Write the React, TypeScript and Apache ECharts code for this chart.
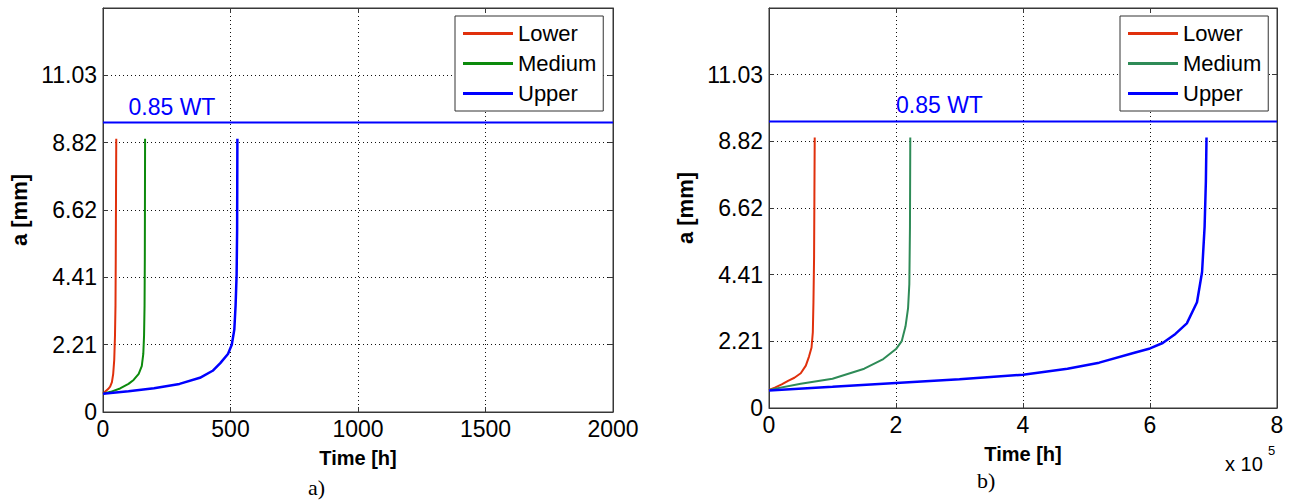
import React, { useEffect, useRef } from "react";
import * as echarts from "echarts";

// ---- Data ----
const seriesNames = ["Lower", "Medium", "Upper"];
const yTickLabels = ["0", "2.21", "4.41", "6.62", "8.82", "11.03", ""];
const wtLevel = 9.48; // 0.85 WT [mm]
const wtLabel = "0.85 WT";

// Panel a) time in hours
const lowerA_t = [0, 10, 20, 28, 35, 40, 44, 47, 49, 50, 51, 52];
const lowerA_a = [0.6, 0.68, 0.75, 0.83, 0.98, 1.25, 1.7, 2.5, 3.5, 5, 7, 8.95];
const mediumA_t = [0, 30, 67, 100, 120, 140, 152, 158, 161, 163, 164, 165];
const mediumA_a = [0.6, 0.66, 0.77, 0.92, 1.05, 1.25, 1.5, 1.9, 2.5, 3.5, 5, 8.95];
const upperA_t = [0, 100, 200, 300, 380, 430, 460, 490, 505, 515, 520, 524, 526, 527];
const upperA_a = [0.6, 0.68, 0.78, 0.92, 1.12, 1.35, 1.6, 1.9, 2.2, 2.7, 3.5, 4.5, 6, 8.95];

// Panel b) time in hours
const lowerB_t = [0, 10000, 20000, 30000, 40000, 50000, 58000, 63000, 67000, 69000, 70000, 71000, 71500, 72000];
const lowerB_a = [0.6, 0.68, 0.78, 0.9, 1.0, 1.15, 1.4, 1.7, 2.0, 2.5, 3.5, 5, 7, 8.95];
const mediumB_t = [0, 50000, 100000, 150000, 180000, 200000, 209000, 215000, 219000, 221000, 222000, 222500];
const mediumB_a = [0.6, 0.8, 0.97, 1.3, 1.62, 1.95, 2.21, 2.7, 3.3, 4.1, 6, 8.95];
const upperB_t = [0, 100000, 200000, 300000, 400000, 470000, 520000, 574000, 600000, 620000, 640000, 658000, 674000, 682000, 686000, 688000, 689000];
const upperB_a = [0.58, 0.7, 0.83, 0.95, 1.1, 1.3, 1.5, 1.82, 1.97, 2.15, 2.45, 2.8, 3.5, 4.5, 6, 7.5, 8.95];

const FONT = "Liberation Sans, Arial, sans-serif";
const AXIS_COLOR = "#383838";

function zip(t: number[], a: number[]) {
  return t.map((v, i) => [v, a[i]]);
}

function buildOption(cfg: {
  gridLeft: number;
  gridWidth: number;
  gridHeight: number;
  xMax: number;
  xInterval: number;
  xFormatter: (v: number) => string;
  yNameGap: number;
  legendLeft: number;
  colors: string[];
  curves: number[][][];
  wtLabelX: number;
  graphics: any[];
}) {
  const yMax = 13.23;
  const yInt = 2.205;
  const axisLineStyle = { show: true, onZero: false, lineStyle: { color: AXIS_COLOR, width: 1 } };
  const tick = { show: true, inside: true, length: 5, lineStyle: { color: AXIS_COLOR } };
  const split = { show: true, lineStyle: { color: "#111", type: [1, 3], width: 1 } };
  return {
    animation: false,
    backgroundColor: "#fff",
    grid: {
      show: true,
      borderColor: AXIS_COLOR,
      borderWidth: 1,
      backgroundColor: "transparent",
      left: cfg.gridLeft,
      top: 8,
      width: cfg.gridWidth,
      height: cfg.gridHeight,
      containLabel: false,
    },
    legend: {
      data: seriesNames,
      orient: "vertical",
      left: cfg.legendLeft,
      top: 16,
      icon: "rect",
      itemWidth: 50,
      itemHeight: 3,
      itemGap: 7,
      padding: [6, 7, 6, 8],
      borderColor: "#333",
      borderWidth: 1,
      borderRadius: 0,
      backgroundColor: "#fff",
      textStyle: { fontSize: 22, color: "#000", fontFamily: FONT, lineHeight: 23 },
    },
    xAxis: [
      {
        type: "value",
        min: 0,
        max: cfg.xMax,
        interval: cfg.xInterval,
        name: "Time [h]",
        nameLocation: "middle",
        nameGap: 36,
        nameTextStyle: { fontSize: 20, fontWeight: "bold", color: "#000", fontFamily: FONT },
        axisLine: axisLineStyle,
        axisTick: tick,
        axisLabel: { fontSize: 23, color: "#000", fontFamily: FONT, margin: 5, formatter: cfg.xFormatter },
        splitLine: split,
      },
      {
        type: "value",
        position: "top",
        min: 0,
        max: cfg.xMax,
        interval: cfg.xInterval,
        axisLine: axisLineStyle,
        axisTick: tick,
        axisLabel: { show: false },
        splitLine: { show: false },
      },
    ],
    yAxis: [
      {
        type: "value",
        min: 0,
        max: yMax,
        interval: yInt,
        name: "a [mm]",
        nameLocation: "middle",
        nameGap: cfg.yNameGap,
        nameTextStyle: { fontSize: 22, fontWeight: "bold", color: "#000", fontFamily: FONT },
        axisLine: axisLineStyle,
        axisTick: tick,
        axisLabel: {
          fontSize: 23,
          color: "#000",
          fontFamily: FONT,
          margin: 6,
          formatter: (v: number) => yTickLabels[Math.round(v / yInt)] ?? "",
        },
        splitLine: split,
      },
      {
        type: "value",
        position: "right",
        min: 0,
        max: yMax,
        interval: yInt,
        axisLine: axisLineStyle,
        axisTick: tick,
        axisLabel: { show: false },
        splitLine: { show: false },
      },
    ],
    series: [
      ...seriesNames.map((n, i) => ({
        name: n,
        type: "line",
        data: cfg.curves[i],
        showSymbol: false,
        symbol: "none",
        lineStyle: { color: cfg.colors[i], width: i === 2 ? 2.5 : 2 },
        itemStyle: { color: cfg.colors[i] },
        z: 3 + i,
      })),
      {
        name: "WT",
        type: "line",
        xAxisIndex: 1,
        yAxisIndex: 1,
        data: [
          [0, wtLevel],
          [cfg.xMax, wtLevel],
        ],
        showSymbol: false,
        symbol: "none",
        lineStyle: { color: "#0000ff", width: 2 },
        itemStyle: { color: "#0000ff" },
        markPoint: {
          symbol: "rect",
          symbolSize: 1,
          itemStyle: { color: "rgba(0,0,0,0)" },
          data: [{ coord: [cfg.wtLabelX, wtLevel] }],
          label: {
            show: true,
            formatter: wtLabel,
            position: "top",
            align: "left",
            distance: 4,
            color: "#0000ff",
            fontSize: 23,
            fontFamily: FONT,
          },
        },
      },
    ],
    graphic: cfg.graphics,
  };
}

function Panel(props: { style: React.CSSProperties; option: any }) {
  const ref = useRef<HTMLDivElement>(null);
  useEffect(() => {
    if (!ref.current) return;
    const chart = echarts.init(ref.current, undefined, { renderer: "svg" });
    chart.setOption(props.option);
    return () => chart.dispose();
  }, []);
  return <div ref={ref} style={props.style} />;
}

export default function App() {
  useEffect(() => {
    document.body.style.margin = "0";
  }, []);

  const optA = buildOption({
    gridLeft: 103,
    gridWidth: 510,
    gridHeight: 404,
    xMax: 2000,
    xInterval: 500,
    xFormatter: (v: number) => String(v),
    yNameGap: 73,
    legendLeft: 455,
    colors: ["#e0300c", "#0c8a0c", "#0000ff"],
    curves: [zip(lowerA_t, lowerA_a), zip(mediumA_t, mediumA_a), zip(upperA_t, upperA_a)],
    wtLabelX: 100,
    graphics: [
      {
        type: "text",
        left: 308,
        top: 476,
        style: { text: "a)", fontSize: 22, fontFamily: "Liberation Serif, Times New Roman, serif", fill: "#000" },
      },
    ],
  });

  const optB = buildOption({
    gridLeft: 124,
    gridWidth: 508,
    gridHeight: 400,
    xMax: 800000,
    xInterval: 200000,
    xFormatter: (v: number) => String(v / 100000),
    yNameGap: 68,
    legendLeft: 475,
    colors: ["#e0300c", "#2e8b57", "#0000ff"],
    curves: [zip(lowerB_t, lowerB_a), zip(mediumB_t, mediumB_a), zip(upperB_t, upperB_a)],
    wtLabelX: 200000,
    graphics: [
      {
        type: "text",
        left: 332,
        top: 469,
        style: { text: "b)", fontSize: 22, fontFamily: "Liberation Serif, Times New Roman, serif", fill: "#000" },
      },
      {
        type: "text",
        left: 580,
        top: 454,
        style: { text: "x 10", fontSize: 20, fontFamily: FONT, fill: "#000" },
      },
      {
        type: "text",
        left: 623,
        top: 444,
        style: { text: "5", fontSize: 13, fontFamily: FONT, fill: "#000" },
      },
    ],
  });

  return (
    <div style={{ position: "relative", width: 1291, height: 500, background: "#fff" }}>
      <Panel style={{ position: "absolute", left: 0, top: 0, width: 645, height: 500 }} option={optA} />
      <Panel style={{ position: "absolute", left: 645, top: 0, width: 646, height: 500 }} option={optB} />
    </div>
  );
}
